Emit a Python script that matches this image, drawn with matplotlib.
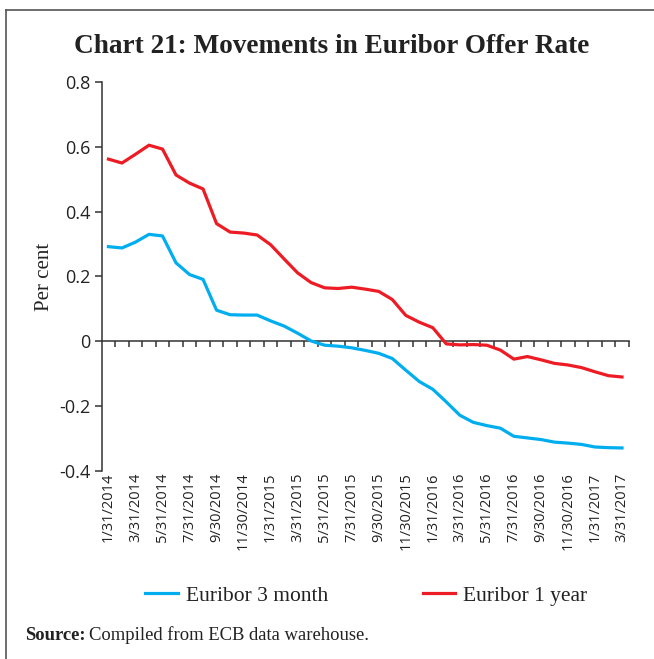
import numpy as np
import pandas as pd
import matplotlib.pyplot as plt
from matplotlib.lines import Line2D

# month-end observation dates, Jan 2014 - Mar 2017
months = pd.date_range('2014-01-31', '2017-03-31', freq='ME')
month_labels = [f'{d.month}/{d.day}/{d.year}' for d in months]

euribor_3m = [0.292, 0.288, 0.306, 0.330, 0.325, 0.242, 0.206, 0.191, 0.096, 0.082,
              0.081, 0.081, 0.063, 0.047, 0.025, 0.001, -0.012, -0.015, -0.020, -0.028,
              -0.037, -0.053, -0.089, -0.124, -0.148, -0.187, -0.228, -0.250, -0.260, -0.268,
              -0.293, -0.298, -0.303, -0.311, -0.314, -0.318, -0.326, -0.328, -0.329]
euribor_1y = [0.562, 0.550, 0.577, 0.605, 0.593, 0.513, 0.488, 0.470, 0.363, 0.337,
              0.334, 0.328, 0.298, 0.254, 0.211, 0.181, 0.165, 0.163, 0.167, 0.161,
              0.154, 0.129, 0.080, 0.059, 0.042, -0.008, -0.011, -0.010, -0.012, -0.027,
              -0.055, -0.047, -0.057, -0.068, -0.073, -0.081, -0.094, -0.106, -0.110]

y_ticks = [0.8, 0.6, 0.4, 0.2, 0, -0.2, -0.4]
y_labels = ['0.8', '0.6', '0.4', '0.2', '0', '-0.2', '-0.4']

blue = '#00AEEF'
red = '#ED1C24'
axis_col = '#333333'
serif = 'Liberation Serif'

fig = plt.figure(figsize=(6.54, 6.59), dpi=100)
ax = fig.add_axes([0.1555, 0.2853, 0.8059, 0.5903])

x = np.arange(len(months))
ax.plot(x, euribor_3m, color=blue, lw=2.3, label='Euribor 3 month')
ax.plot(x, euribor_1y, color=red, lw=2.3, label='Euribor 1 year')

ax.set_xlim(-0.5, len(months) - 0.5)
ax.set_ylim(-0.4, 0.8)
for s in ['top', 'right', 'bottom']:
    ax.spines[s].set_visible(False)
ax.spines['left'].set_color(axis_col)
ax.spines['left'].set_linewidth(1.1)

ax.set_yticks(y_ticks, y_labels)
ax.tick_params(axis='y', direction='out', length=5, width=1.1, color=axis_col,
               labelsize=13, labelcolor='#222222', pad=3)
for lbl in ax.get_yticklabels():
    lbl.set_family('Open Sans')

# date labels sit under the plot, every other month
ax.set_xticks(x[::2], month_labels[::2], rotation=90)
ax.tick_params(axis='x', length=0, pad=1, labelsize=10.5, labelcolor='#222222')
for lbl in ax.get_xticklabels():
    lbl.set_family('Open Sans')

# category axis drawn along zero with ticks between months
zero = ax.secondary_xaxis((0 - (-0.4)) / 1.2)
zero.set_xticks(x + 0.5)
zero.tick_params(direction='out', length=4.5, width=1.1, color=axis_col,
                 labelbottom=False, labeltop=False)
for s in zero.spines.values():
    s.set_color(axis_col)
    s.set_linewidth(1.1)

ax.set_ylabel('Per cent', family=serif, fontsize=15, labelpad=4, color='#222222')

fig.text(0.507, 0.929, 'Chart 21: Movements in Euribor Offer Rate', ha='center', va='center',
         family=serif, fontweight='bold', fontsize=19.6, color='#222222')

fig.legend(loc='center', bbox_to_anchor=(0.560, 0.0956), ncol=2, frameon=False,
           prop={'family': serif, 'size': 15.5}, handlelength=1.5,
           handletextpad=0.37, columnspacing=4.4, labelcolor='#222222')

src = fig.text(0.038, 0.036, 'Source:', family=serif, fontweight='bold',
               fontsize=13.4, color='#222222', va='center')
fig.canvas.draw()
bb = src.get_window_extent()
fig.text(bb.x1 / fig.bbox.width + 0.006, 0.036, 'Compiled from ECB data warehouse.',
         family=serif, fontsize=13.4, color='#222222', va='center')

# frame around the chart panel (left and top edges visible)
fig.add_artist(Line2D([0.0092, 1.0], [0.9848, 0.9848], transform=fig.transFigure,
                      color='#555555', lw=1.2))
fig.add_artist(Line2D([0.0092, 0.0092], [0.0, 0.9848], transform=fig.transFigure,
                      color='#555555', lw=1.2))

fig.savefig('out.png', dpi=100)
